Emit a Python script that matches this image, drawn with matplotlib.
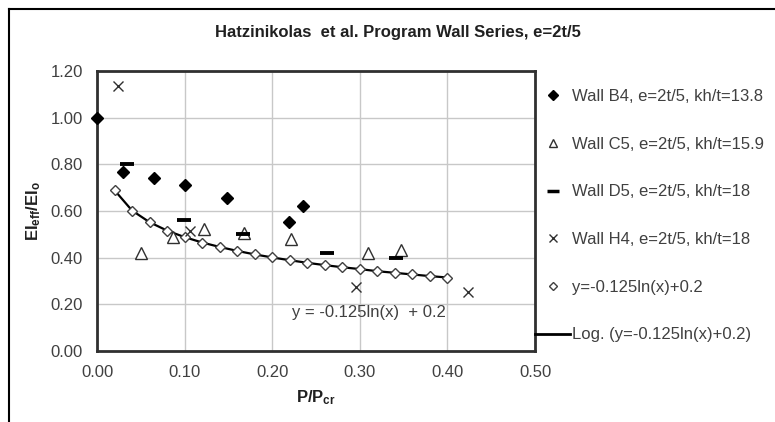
import matplotlib
matplotlib.use("Agg")
import matplotlib.pyplot as plt
from matplotlib.lines import Line2D

plt.rcParams['font.family'] = ['Liberation Sans', 'DejaVu Sans']
plt.rcParams['mathtext.fontset'] = 'custom'
plt.rcParams['mathtext.rm'] = 'Liberation Sans:bold'
plt.rcParams['mathtext.bf'] = 'Liberation Sans:bold'
plt.rcParams['mathtext.it'] = 'Liberation Sans:bold'

# ---- data ----
b4_x = [0.000, 0.030, 0.065, 0.101, 0.148, 0.219, 0.235]
b4_y = [1.000, 0.768, 0.740, 0.711, 0.654, 0.554, 0.622]

c5_x = [0.050, 0.087, 0.122, 0.168, 0.221, 0.309, 0.347]
c5_y = [0.418, 0.490, 0.525, 0.507, 0.478, 0.418, 0.432]

d5_x = [0.034, 0.099, 0.167, 0.263, 0.341]
d5_y = [0.800, 0.561, 0.501, 0.418, 0.400]

h4_x = [0.024, 0.106, 0.296, 0.423]
h4_y = [1.135, 0.515, 0.275, 0.254]

fit_x = [0.02, 0.04, 0.06, 0.08, 0.10, 0.12, 0.14, 0.16, 0.18, 0.20,
         0.22, 0.24, 0.26, 0.28, 0.30, 0.32, 0.34, 0.36, 0.38, 0.40]
fit_y = [0.689, 0.602, 0.552, 0.516, 0.488, 0.465, 0.446, 0.429, 0.414, 0.401,
         0.389, 0.378, 0.368, 0.359, 0.351, 0.342, 0.335, 0.328, 0.321, 0.315]

x_ticks = [0.00, 0.10, 0.20, 0.30, 0.40, 0.50]
y_ticks = [0.00, 0.20, 0.40, 0.60, 0.80, 1.00, 1.20]

labels = ["Wall B4, e=2t/5, kh/t=13.8", "Wall C5, e=2t/5, kh/t=15.9",
          "Wall D5, e=2t/5, kh/t=18", "Wall H4, e=2t/5, kh/t=18",
          "y=-0.125ln(x)+0.2", "Log. (y=-0.125ln(x)+0.2)"]

W, H = 775, 422
FS = 12
fig = plt.figure(figsize=(W / 100, H / 100), dpi=100)
ax = fig.add_axes([97 / W, 1 - 351 / H, (535 - 97) / W, (351 - 71) / H])

txtc = '#404040'
ax.set_xlim(0, 0.5)
ax.set_ylim(0, 1.2)
ax.set_xticks(x_ticks)
ax.set_yticks(y_ticks)
ax.set_xticklabels([f"{v:.2f}" for v in x_ticks])
ax.set_yticklabels([f"{v:.2f}" for v in y_ticks])
ax.tick_params(length=0, labelsize=FS, labelcolor=txtc)
ax.tick_params(axis='y', pad=10)
ax.tick_params(axis='x', pad=10)
ax.grid(True, color='#c8c8c8', lw=1)
ax.set_axisbelow(True)
for s in ax.spines.values():
    s.set_color('#303030')
    s.set_linewidth(2)

ax.plot(fit_x, fit_y, color='black', lw=1.6, zorder=3)
ax.plot(fit_x, fit_y, ls='none', marker='D', ms=5, mfc='white', mec='#404040', mew=1, zorder=4)
ax.plot(b4_x, b4_y, ls='none', marker='D', ms=6.5, color='black', zorder=5, clip_on=False)
ax.plot(c5_x, c5_y, ls='none', marker='^', ms=8, mfc='white', mec='#303030', mew=1, zorder=5)
ax.plot(d5_x, d5_y, ls='none', marker='_', ms=10, mec='black', mew=2.8, zorder=5)
ax.plot(h4_x, h4_y, ls='none', marker='x', ms=7, mec='#303030', mew=1, zorder=5)

ax.text(0.223, 0.163, "y = -0.125ln(x)  + 0.2", fontsize=FS, color=txtc, va='center', ha='left')

fig.text(398 / W, 1 - 32 / H, "Hatzinikolas  et al. Program Wall Series, e=2t/5", fontsize=FS,
         fontweight='bold', color='#202020', ha='center', va='center')
ax.set_xlabel(r"P/P$_{\mathrm{cr}}$", fontsize=FS, fontweight='bold', color='#202020')
ax.set_ylabel(r"EI$_{\mathrm{eff}}$/EI$_{\mathrm{o}}$", fontsize=FS, fontweight='bold', color='#202020')
ax.yaxis.set_label_coords(-(97 - 43) / (535 - 97), 0.5)
ax.xaxis.set_label_coords(0.5, -(388 - 351) / (351 - 71))

handles = [
    Line2D([], [], ls='none', marker='D', ms=5.5, color='black'),
    Line2D([], [], ls='none', marker='^', ms=6, mfc='white', mec='#303030'),
    Line2D([], [], ls='none', marker='_', ms=8, mec='black', mew=2.5),
    Line2D([], [], ls='none', marker='x', ms=6, mec='#303030'),
    Line2D([], [], ls='none', marker='D', ms=4.5, mfc='white', mec='#404040'),
    Line2D([], [], color='black', lw=2),
]
leg = fig.legend(handles, labels, loc='upper left', bbox_to_anchor=(535 / W, 1 - 89 / H),
                 frameon=False, fontsize=FS, handlelength=2.1, handletextpad=0.12,
                 labelspacing=1.96, borderpad=0, borderaxespad=0)
for t in leg.get_texts():
    t.set_color(txtc)

# outer chart frame (top and left visible)
fig.add_artist(Line2D([9 / W, 1], [1 - 9 / H, 1 - 9 / H], color='black', lw=1.5, transform=fig.transFigure))
fig.add_artist(Line2D([9 / W, 9 / W], [0, 1 - 9 / H], color='black', lw=1.5, transform=fig.transFigure))

fig.savefig("out.png", dpi=100)
